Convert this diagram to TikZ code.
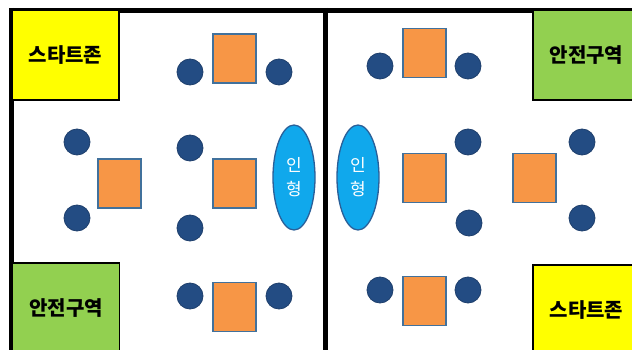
\documentclass[tikz,border=0pt]{standalone}
\usepackage{fontspec}
\newfontfamily\kr{Noto Sans CJK KR}
\definecolor{tableor}{HTML}{F79646}
\definecolor{tableedge}{HTML}{41719C}
\definecolor{chairbl}{HTML}{234C83}
\definecolor{chairedge}{HTML}{1E3F6C}
\definecolor{dollfill}{HTML}{10A8EC}
\definecolor{dolledge}{HTML}{2A5F98}
\definecolor{zoneyel}{HTML}{FFFF00}
\definecolor{zonegrn}{HTML}{92D050}
\tikzset{
  wall/.style={line width=5pt, black},
  tablebox/.style={draw=tableedge, fill=tableor, line width=1.3pt, minimum width=43pt, minimum height=49pt, inner sep=0pt},
  chair/.style={circle, draw=chairedge, fill=chairbl, line width=0.8pt, minimum size=26pt, inner sep=0pt},
  doll/.style={ellipse, draw=dolledge, fill=dollfill, line width=1.3pt, minimum width=42pt, minimum height=105pt, inner sep=0pt, text=white, font=\kr\fontsize{17}{24}\selectfont, align=center},
  zone/.style={draw=black, line width=1.5pt, minimum width=107pt, minimum height=90pt, inner sep=0pt, font=\kr\bfseries\fontsize{20}{22}\selectfont},
}
\usetikzlibrary{shapes.geometric}
\begin{document}
\begin{tikzpicture}[x=1pt,y=-1pt]
\useasboundingbox (0,0) rectangle (632,350);
\clip (0,0) rectangle (632,350);
\fill[white] (0,0) rectangle (632,350);
% walls
\draw[wall] (11.5,10.5) -- (640,10.5);
\draw[wall] (11.5,8) -- (11.5,360);
\draw[wall] (325.5,8) -- (325.5,360);
% zones
\node[zone, fill=zoneyel] (startL) at (65.5,55) {스타트존};
\node[zone, fill=zonegrn] (safeL) at (66,308) {안전구역};
\node[zone, fill=zonegrn] (safeR) at (586.5,55) {안전구역};
\node[zone, fill=zoneyel] (startR) at (586.5,310) {스타트존};
% left panel tables
\node[tablebox] (t1) at (234.5,58.5) {};
\node[tablebox] (t2) at (119.5,183.5) {};
\node[tablebox] (t3) at (234.5,183.5) {};
\node[tablebox] (t4) at (234.5,307) {};
% left panel chairs
\node[chair] (c1) at (190,72) {};
\node[chair] (c2) at (279,72) {};
\node[chair] (c3) at (77,142) {};
\node[chair] (c4) at (190,148) {};
\node[chair] (c5) at (77,218) {};
\node[chair] (c6) at (190,228) {};
\node[chair] (c7) at (190,296) {};
\node[chair] (c8) at (279,296) {};
% right panel tables
\node[tablebox] (t5) at (424.5,53) {};
\node[tablebox] (t6) at (424.5,178) {};
\node[tablebox] (t7) at (534.5,178) {};
\node[tablebox] (t8) at (424.5,301) {};
% right panel chairs
\node[chair] (c9) at (380,66) {};
\node[chair] (c10) at (468,66) {};
\node[chair] (c11) at (468,142) {};
\node[chair] (c12) at (582,142) {};
\node[chair] (c13) at (469,223) {};
\node[chair] (c14) at (582,218) {};
\node[chair] (c15) at (380,290) {};
\node[chair] (c16) at (468,290) {};
% dolls
\node[doll] (d1) at (294,177.5) {인\\형};
\node[doll] (d2) at (358,177.5) {인\\형};
\end{tikzpicture}
\end{document}
